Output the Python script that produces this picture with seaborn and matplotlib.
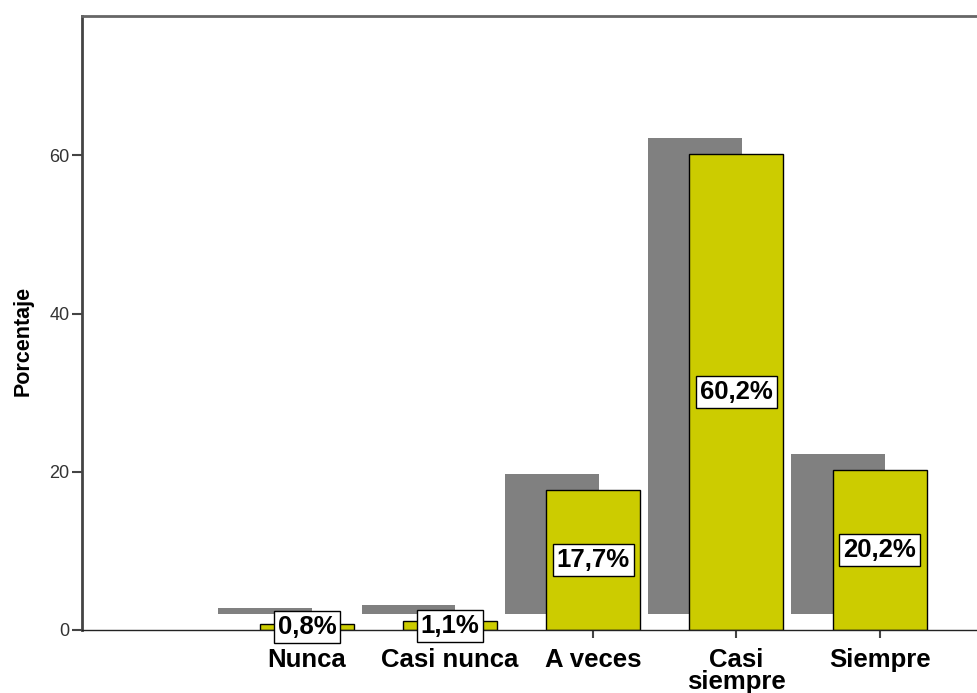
import matplotlib
matplotlib.use("Agg")
import matplotlib.pyplot as plt
import seaborn as sns
import numpy as np
import pandas as pd

categories = ["Nunca", "Casi nunca", "A veces", "Casi siempre", "Siempre"]
tick_labels = ["Nunca", "Casi nunca", "A veces", "Casi\nsiempre", "Siempre"]
values = [0.8, 1.1, 17.7, 60.2, 20.2]
value_labels = ["0,8%", "1,1%", "17,7%", "60,2%", "20,2%"]
y_ticks = [0, 20, 40, 60]

sns.set_theme(style="white")
plt.rcParams['font.family'] = ['Liberation Sans', 'DejaVu Sans']

fig = plt.figure(figsize=(9.77, 6.93), dpi=100)
ax = fig.add_axes([82/977, 63/693, 1 - 82/977, (630-16)/693])

df = pd.DataFrame({"cat": categories, "val": values})
bar_w = 0.656
pos = np.arange(len(categories))

# shadow (3D effect)
ax.bar(pos - 0.29, df["val"], width=bar_w, bottom=2.0, color="#808080",
       edgecolor="none", zorder=1)

sns.barplot(data=df, x="cat", y="val", color="#CCCC00", saturation=1,
            width=bar_w, edgecolor="black", linewidth=1, ax=ax, zorder=2)

for x, v, lab in zip(pos, values, value_labels):
    ax.text(x, v / 2, lab, ha="center", va="center", fontsize=18.5,
            fontweight="bold", color="black", zorder=5,
            bbox=dict(boxstyle="square,pad=0.15", fc="white", ec="black", lw=1))

ax.set_xlim(-1.57, 4.68)
ax.set_ylim(0, 77.6)
ax.set_yticks(y_ticks)
ax.set_yticklabels([str(t) for t in y_ticks], fontsize=13, color="#333333")
ax.set_xticks(pos)
ax.set_xticklabels(tick_labels, fontsize=18.5, fontweight="bold", color="black",
                   linespacing=0.9)
ax.set_xlabel("")
ax.set_ylabel("Porcentaje", fontsize=15.5, fontweight="bold", color="black", labelpad=11)
ax.yaxis.label.set_y(0.47)

ax.tick_params(axis="y", direction="out", length=7, width=1.5, color="#444444", pad=2,
               left=True)
ax.tick_params(axis="x", direction="out", length=6, width=1.5, color="#444444", pad=7,
               bottom=True)

ax.spines["right"].set_visible(False)
ax.spines["left"].set_color("#444444")
ax.spines["left"].set_linewidth(2)
ax.spines["top"].set_color("#666666")
ax.spines["top"].set_linewidth(2)
ax.spines["bottom"].set_color("#222222")
ax.spines["bottom"].set_linewidth(1)
ax.grid(False)

fig.savefig("out.png", dpi=100)
